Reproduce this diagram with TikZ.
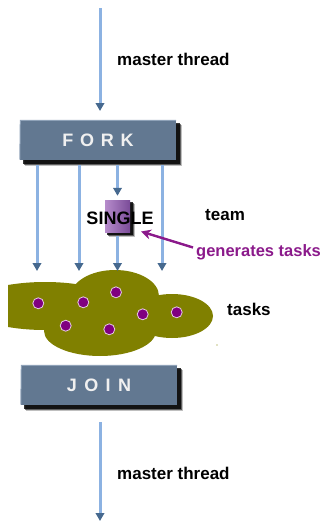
\documentclass[tikz,border=0pt]{standalone}
\usepackage{fontspec}
\setmainfont{Liberation Sans}
\usetikzlibrary{arrows.meta,backgrounds}

\definecolor{threadblue}{HTML}{8CB2E2}
\definecolor{tipblue}{HTML}{46698F}
\definecolor{barfill}{HTML}{627891}
\definecolor{barlight}{HTML}{8FA2B8}
\definecolor{cloudolive}{HTML}{808000}
\definecolor{taskdot}{HTML}{800080}
\definecolor{annot}{HTML}{8B1A8B}
\definecolor{singlelight}{HTML}{B68CCB}
\definecolor{singledark}{HTML}{7A4B98}

\tikzset{
  thread/.style={draw=threadblue, line width=3pt,
    -{Triangle[width=8.5pt,length=8pt,color=tipblue]}},
  bar/.style={rectangle, fill=barfill, minimum width=156pt, minimum height=40pt,
    inner sep=0pt, text=white!94!black,
    font=\bfseries\fontsize{18}{18}\selectfont},
  label/.style={anchor=base west, inner sep=0pt,
    font=\bfseries\fontsize{17}{17}\selectfont},
  task/.style={circle, fill=taskdot, draw=white!80!taskdot, line width=0.8pt,
    minimum size=11pt, inner sep=0pt},
  singlebox/.style={rectangle, minimum width=25pt, minimum height=32pt, inner sep=0pt,
    left color=singlelight, right color=singledark},
  softshadow/.style={fill=black, opacity=#1}
}

% a soft dark shadow down and to the right of a node
\newcommand{\castshadow}[2]{%
  \begin{pgfonlayer}{background}
    \fill[softshadow=0.25] ([shift={(#2+1.5,#2+1.5)}]#1.north west) rectangle ([shift={(#2+1.5,#2+1.5)}]#1.south east);
    \fill[softshadow=0.5] ([shift={(#2+0.5,#2+0.5)}]#1.north west) rectangle ([shift={(#2+0.5,#2+0.5)}]#1.south east);
    \fill[softshadow=0.8] ([shift={(#2-0.5,#2-0.5)}]#1.north west) rectangle ([shift={(#2-0.5,#2-0.5)}]#1.south east);
  \end{pgfonlayer}}

\begin{document}
\begin{tikzpicture}[x=1pt,y=-1pt]
\useasboundingbox (0,0) rectangle (325,522);

% fork and join bars
\node[bar] (fork) at (98,140) {F\kern6.8pt O\kern6.8pt R\kern6.8pt K};
\node[bar] (join) at (99,385) {J\kern7.4pt O\kern7.4pt I\kern7.4pt N};
\castshadow{fork}{4}
\castshadow{join}{4}
\foreach \b in {fork,join}{
  \draw[barlight, line width=1pt]
    ([yshift=0.5pt]\b.south west) -- ([xshift=0.5pt,yshift=-0.5pt]\b.north west)
    -- ([yshift=-0.5pt]\b.north east);
}

% master thread in and out
\coordinate (inTop) at (100,8);
\coordinate (inEnd) at (100,111);
\draw[thread] (inTop) -- (inEnd);
\node[label] (lblIn) at (117,65.5) {master thread};

\coordinate (outTop) at (100,422);
\coordinate (outEnd) at (100,521);
\draw[thread] (outTop) -- (outEnd);
\node[label] (lblOut) at (117,479) {master thread};

% the task cloud
\begin{scope}
  \clip (8,260) rectangle (230,360);
  \fill[cloudolive] (45,306) ellipse [x radius=76, y radius=24];
  \fill[cloudolive] (115,296) ellipse [x radius=44, y radius=26];
  \fill[cloudolive] (172,316) ellipse [x radius=41, y radius=22];
  \fill[cloudolive] (100,331) ellipse [x radius=56, y radius=25];
\end{scope}
\fill[cloudolive] (217,345) circle [radius=0.7];

% team threads
\coordinate (t1s) at (37,165);  \coordinate (t1e) at (37,271);
\coordinate (t2s) at (79,165);  \coordinate (t2e) at (79,271);
\coordinate (t4s) at (162,165); \coordinate (t4e) at (162,271);
\draw[thread] (t1s) -- (t1e);
\draw[thread] (t2s) -- (t2e);
\draw[thread] (t4s) -- (t4e);

% the thread running the single construct
\node[singlebox] (single) at (117.5,216) {};
\castshadow{single}{3}
\coordinate (t3s) at (117.5,165);
\coordinate (t3e) at (117.5,271);
\draw[thread] (t3s) -- ([yshift=4pt]single.north);
\draw[thread] ([yshift=-4pt]single.south) -- (t3e);
\node[anchor=base, inner sep=0pt, font=\bfseries\fontsize{18}{18}\selectfont]
  (singleText) at (120,224) {SINGLE};

% tasks
\node[task] (k1) at (38.3,303.3) {};
\node[task] (k2) at (83.3,302.3) {};
\node[task] (k3) at (116,292.3) {};
\node[task] (k4) at (142.7,314.3) {};
\node[task] (k5) at (176.7,312.3) {};
\node[task] (k6) at (65.7,325.7) {};
\node[task] (k7) at (109.3,329.3) {};

% labels
\node[label] (lblTeam) at (205,220) {team};
\node[label] (lblTasks) at (227,315) {tasks};
\node[label, text=annot, font=\bfseries\fontsize{16.5}{16.5}\selectfont]
  (lblGen) at (196,256) {generates tasks};
\coordinate (genTail) at (193,247.5);
\coordinate (genTip) at (141,231.5);
\draw[annot, line width=2.4pt, -{Stealth[length=10pt,width=10pt]}] (genTail) -- (genTip);
\end{tikzpicture}
\end{document}
